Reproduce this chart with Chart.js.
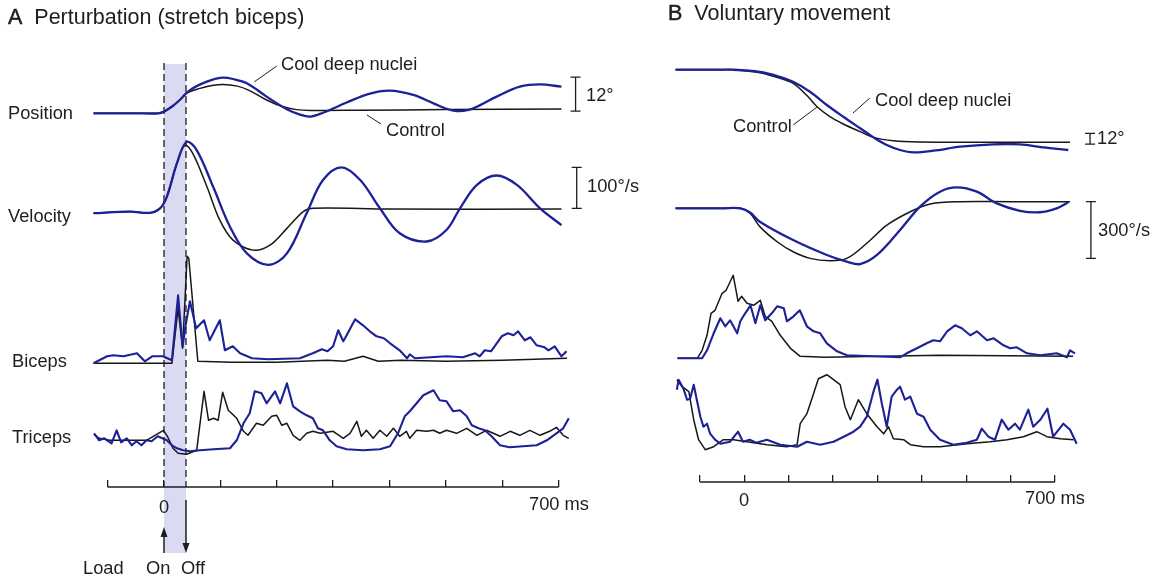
<!DOCTYPE html>
<html>
<head>
<meta charset="utf-8">
<script src="https://cdn.jsdelivr.net/npm/chart.js@4.4.1/dist/chart.umd.min.js"></script>
<style>
  html, body { margin: 0; padding: 0; background: #fff; }
  #fig { position: relative; width: 1161px; height: 577px; overflow: hidden;
         font-family: "Liberation Sans", Arial, sans-serif; color: #1e1e1e; }
  #fig canvas { position: absolute; top: 0; }
  .t { position: absolute; white-space: nowrap; line-height: 1; font-size: 18.3px; transform: translateY(-50%); }
  .c { transform: translate(-50%, -50%); }
  .ttl { font-size: 21.5px; }
  .ttl b { font-weight: normal; -webkit-text-stroke: 0.5px #1e1e1e; }
</style>
</head>
<body>
<div id="fig">
  <canvas id="chartA" width="620" height="577" style="left:0"></canvas>
  <canvas id="chartB" width="521" height="577" style="left:640px"></canvas>

  <div class="t ttl" style="left:8px;top:18px"><b>A</b>&nbsp; Perturbation (stretch biceps)</div>
  <div class="t" style="left:281px;top:64px">Cool deep nuclei</div>
  <div class="t" style="left:386px;top:130px">Control</div>
  <div class="t" style="left:586px;top:95px">12°</div>
  <div class="t" style="left:587px;top:186px">100°/s</div>
  <div class="t" style="left:8px;top:113px">Position</div>
  <div class="t" style="left:8px;top:216px">Velocity</div>
  <div class="t" style="left:12px;top:361px">Biceps</div>
  <div class="t" style="left:12px;top:437px">Triceps</div>
  <div class="t c" style="left:164px;top:507px">0</div>
  <div class="t c" style="left:559px;top:504px">700 ms</div>
  <div class="t" style="left:83px;top:568px">Load</div>
  <div class="t" style="left:146px;top:568px">On</div>
  <div class="t" style="left:181px;top:568px">Off</div>

  <div class="t ttl" style="left:668px;top:14px"><b>B</b>&nbsp; Voluntary movement</div>
  <div class="t" style="left:875px;top:100px">Cool deep nuclei</div>
  <div class="t" style="left:733px;top:126px">Control</div>
  <div class="t" style="left:1097px;top:138px">12°</div>
  <div class="t" style="left:1098px;top:230px">300°/s</div>
  <div class="t c" style="left:744px;top:500px">0</div>
  <div class="t c" style="left:1055px;top:498px">700 ms</div>
</div>

<script>
// ---------- data: [time (ms), value] ----------
// A: perturbation (stretch biceps). position in deg, velocity in deg/s, EMG in arbitrary units
const timeTicks = [-100, 0, 100, 200, 300, 400, 500, 600, 700];
const loadOnOff = [0, 39];

const posA_control = [[-125,0],[-40,0],[-10,0],[0,0.6],[15,2.5],[28,4.7],[40,7.1],[64,8.8],[85,9.8],[105,10.2],[130,9.6],[150,8.2],[182,4.7],[210,2.4],[235,1.3],[260,1.0],[350,1.1],[500,1.3],[705,1.5]];
const posA_cool = [[-125,0],[-40,0],[-10,0],[0,0.6],[15,2.5],[28,4.7],[46,8.2],[76,11.2],[103,12.6],[125,12.0],[147,10.6],[182,5.9],[218,1.4],[240,-0.4],[259,-1.2],[282,0.2],[324,3.8],[362,6.8],[400,8.0],[442,6.5],[478,3.5],[501,1.6],[519,0.8],[540,1.2],[560,2.8],[590,5.9],[631,9.4],[667,10.2],[705,9.4]];

const velA_control = [[-125,-12],[-60,-8],[-25,-11],[-7,0],[5,28],[23,110],[37,154],[51,134],[76,53],[99,-29],[122,-77],[158,-102],[188,-90],[218,-49],[247,-8],[264,0],[400,-2],[705,-2]];
const velA_cool = [[-125,-12],[-60,-8],[-25,-11],[-7,0],[5,28],[23,110],[40,162],[58,142],[87,53],[117,-45],[147,-110],[185,-138],[218,-110],[253,-12],[282,69],[315,100],[348,69],[383,0],[418,-61],[466,-81],[501,-53],[525,0],[555,57],[590,80],[626,57],[667,0],[705,-41]];

const bicA_control = [[-125,0],[14,0],[25,55],[33,15],[41,107],[44,105],[60,2],[120,1],[200,1],[290,3],[320,2],[353,7],[380,2],[420,3],[500,2],[600,3],[715,5]];
const bicA_cool = [[-125,0],[-101,7],[-90,8],[-72,7],[-48,10],[-34,2],[-21,7],[-2,7],[14,3],[25,68],[33,17],[38,37],[46,62],[57,35],[71,43],[81,23],[99,43],[108,13],[122,17],[135,10],[156,5],[185,4],[241,5],[264,10],[280,14],[290,12],[300,17],[309,33],[318,22],[324,28],[339,44],[353,38],[365,32],[377,27],[390,25],[401,20],[418,13],[431,5],[436,9],[445,5],[501,7],[530,6],[552,10],[560,7],[569,13],[580,12],[599,27],[610,30],[620,28],[628,32],[640,23],[650,26],[661,18],[675,16],[682,13],[693,17],[705,7],[714,12]];

const triA_control = [[-124,19],[-115,15],[-96,13],[-72,13],[-31,13],[-1,23],[6,17],[16,5],[25,0],[40,-1],[58,3],[71,62],[79,33],[88,35],[96,33],[104,61],[114,43],[129,35],[141,22],[149,18],[164,30],[176,28],[191,37],[200,38],[209,28],[218,30],[229,18],[241,13],[253,20],[264,22],[277,20],[300,22],[318,15],[330,20],[342,32],[350,17],[359,23],[371,15],[383,23],[395,17],[407,25],[418,17],[430,22],[436,15],[448,23],[466,22],[478,23],[489,20],[501,23],[519,20],[537,25],[555,18],[572,23],[596,17],[614,22],[631,18],[649,23],[667,18],[684,22],[696,26],[708,18],[718,15]];
const triA_cool = [[-124,20],[-115,13],[-106,15],[-93,10],[-84,23],[-76,11],[-66,15],[-57,8],[-49,12],[-40,8],[-31,13],[-22,12],[-11,17],[5,13],[14,8],[23,5],[34,3],[46,2],[64,3],[88,4],[117,5],[129,13],[141,30],[152,40],[161,62],[173,60],[182,50],[197,62],[206,50],[218,70],[229,47],[241,42],[253,38],[264,35],[273,25],[282,23],[294,13],[306,7],[324,4],[353,3],[383,4],[401,7],[415,20],[427,37],[436,42],[448,50],[460,58],[478,63],[489,53],[501,52],[513,42],[525,43],[537,37],[546,28],[558,25],[569,23],[581,17],[596,8],[613,6],[637,7],[661,8],[679,13],[696,20],[708,25],[718,35]];

// B: voluntary movement
const posB_control = [[-155,82],[-60,82],[-25,82],[35,78.7],[73,73.5],[110,66.7],[140,53.6],[164,40.4],[193,29.2],[223,21],[261,12.4],[291,6],[336,2.2],[396,0.8],[500,0.5],[734,0.5]];
const posB_cool = [[-155,82],[-60,82],[-25,82],[35,79.5],[73,75],[110,68.5],[148,57.3],[186,42.4],[223,29.2],[261,16.2],[291,6],[321,-2.6],[351,-8.2],[381,-10.8],[426,-9],[487,-4.5],[561,-1.8],[621,-1.8],[673,-5.2],[730,-8.2]];

const velB_control = [[-155,0],[-50,0],[-9,0],[13,-26],[35,-97],[74,-177],[110,-230],[148,-265],[193,-277],[231,-265],[276,-185],[322,-88],[374,-18],[419,23],[487,35],[600,35],[734,35]];
const velB_cool = [[-155,0],[-50,0],[-9,0],[13,-22],[35,-71],[110,-168],[186,-247],[231,-282],[261,-295],[299,-247],[351,-115],[396,9],[441,88],[479,111],[524,88],[569,26],[621,-13],[666,-21],[704,0],[730,32]];

const bicB_control = [[-151,0],[-106,0],[-95,8],[-84,23],[-75,45],[-66,48],[-50,65],[-41,68],[-25,83],[-14,57],[-6,62],[6,55],[21,53],[36,58],[47,42],[62,37],[81,23],[104,10],[126,2],[180,1],[441,3],[741,2]];
const bicB_cool = [[-150,0],[-95,0],[-84,8],[-69,25],[-54,40],[-43,32],[-32,38],[-16,25],[-9,37],[2,45],[14,53],[25,35],[36,53],[47,38],[62,45],[74,52],[89,50],[96,37],[111,42],[125,48],[141,32],[156,27],[171,25],[186,15],[209,7],[231,3],[291,2],[351,1],[366,5],[389,10],[411,15],[426,18],[441,17],[457,27],[475,33],[490,30],[509,23],[524,27],[547,18],[562,20],[584,13],[599,10],[614,11],[637,5],[667,3],[704,5],[727,1],[734,8],[745,5]];

const triB_control = [[-152,67],[-140,60],[-125,55],[-114,27],[-103,7],[-88,-3],[-69,0],[-47,7],[-24,7],[6,5],[51,2],[96,0],[119,2],[126,23],[141,33],[156,53],[167,68],[186,72],[201,67],[216,62],[227,40],[239,27],[257,47],[276,33],[299,20],[314,13],[325,20],[336,8],[359,7],[374,2],[404,0],[441,0],[502,3],[554,5],[592,7],[629,10],[659,15],[682,10],[712,8],[742,7]];
const triB_cool = [[-152,57],[-148,67],[-137,58],[-129,47],[-122,48],[-114,62],[-107,47],[-99,30],[-92,20],[-84,23],[-77,13],[-66,7],[-54,3],[-32,5],[-14,15],[-3,5],[12,7],[27,4],[51,7],[81,2],[119,0],[141,5],[171,2],[201,5],[224,10],[246,15],[261,20],[276,30],[291,55],[300,67],[310,43],[321,20],[332,50],[344,57],[351,60],[362,47],[374,50],[389,33],[404,30],[419,17],[441,7],[471,2],[501,4],[524,7],[535,18],[550,10],[565,7],[580,27],[595,17],[610,23],[621,17],[640,37],[651,20],[667,27],[683,38],[696,10],[719,23],[734,17],[749,3]];

// ---------- styling / layout ----------
const COOL = '#1d2196';
const CTRL = '#171717';
const INK = '#1e1e1e';
const SHADE = 'rgba(205,205,238,0.75)';

function pts(a) { return a.map(p => ({ x: p[0], y: p[1] })); }

// a hidden y scale whose zero sits at zeroPx with pxPerUnit pixels per unit
function rowScale(zeroPx, pxPerUnit, top, bottom) {
  return { type: 'linear', display: false, bounds: 'data',
           min: (zeroPx - bottom) / pxPerUnit, max: (zeroPx - top) / pxPerUnit };
}

function trace(data, axis, color, width, smooth) {
  return { data: pts(data), yAxisID: axis, borderColor: color, borderWidth: width,
           pointRadius: 0, fill: false, clip: false, borderJoinStyle: 'round',
           tension: smooth ? 0.35 : 0 };
}

function marks(cfg) {
  return {
    id: 'marks',
    beforeDatasetsDraw(chart) {
      if (!cfg.load) return;
      const { ctx, scales: { x } } = chart;
      const a = x.getPixelForValue(cfg.load[0]), b = x.getPixelForValue(cfg.load[1]);
      ctx.save();
      ctx.fillStyle = SHADE;
      ctx.fillRect(a, cfg.shade[0], b - a, cfg.shade[1] - cfg.shade[0]);
      ctx.strokeStyle = INK; ctx.lineWidth = 1.3; ctx.setLineDash([7, 4]);
      [a, b].forEach(px => { ctx.beginPath(); ctx.moveTo(px, cfg.dash[0]); ctx.lineTo(px, cfg.dash[1]); ctx.stroke(); });
      ctx.restore();
    },
    afterDraw(chart) {
      const { ctx, scales, chartArea } = chart;
      const x = scales.x;
      ctx.save();
      ctx.strokeStyle = INK; ctx.fillStyle = INK; ctx.lineWidth = 1.3;
      // time axis line
      ctx.beginPath();
      ctx.moveTo(x.getPixelForValue(timeTicks[0]), chartArea.bottom);
      ctx.lineTo(x.getPixelForValue(timeTicks[timeTicks.length - 1]), chartArea.bottom);
      ctx.stroke();
      // calibration bars
      cfg.bars.forEach(br => {
        const px = x.getPixelForValue(br.t), y = scales[br.axis];
        const y0 = y.getPixelForValue(br.from), y1 = y.getPixelForValue(br.to);
        ctx.beginPath();
        ctx.moveTo(px, y0); ctx.lineTo(px, y1);
        ctx.moveTo(px - 5, y0); ctx.lineTo(px + 5, y0);
        ctx.moveTo(px - 5, y1); ctx.lineTo(px + 5, y1);
        ctx.stroke();
      });
      // leader lines
      ctx.lineWidth = 1;
      cfg.leaders.forEach(l => {
        const y = scales[l.axis];
        ctx.beginPath();
        ctx.moveTo(x.getPixelForValue(l.from[0]), y.getPixelForValue(l.from[1]));
        ctx.lineTo(x.getPixelForValue(l.to[0]), y.getPixelForValue(l.to[1]));
        ctx.stroke();
      });
      // load on / off arrows
      if (cfg.load) {
        ctx.lineWidth = 1.5;
        const arrow = (px, yTail, yHead) => {
          const d = yHead < yTail ? 1 : -1;
          ctx.beginPath(); ctx.moveTo(px, yTail); ctx.lineTo(px, yHead + d * 7); ctx.stroke();
          ctx.beginPath(); ctx.moveTo(px, yHead); ctx.lineTo(px - 3.5, yHead + d * 10); ctx.lineTo(px + 3.5, yHead + d * 10); ctx.closePath(); ctx.fill();
        };
        arrow(x.getPixelForValue(cfg.load[0]), cfg.arrowOn[0], cfg.arrowOn[1]);
        arrow(x.getPixelForValue(cfg.load[1]), cfg.arrowOff[0], cfg.arrowOff[1]);
      }
      ctx.restore();
    }
  };
}

function xScale(min, max) {
  return {
    type: 'linear', min: min, max: max, bounds: 'data', offset: false,
    afterBuildTicks: s => { s.ticks = timeTicks.map(v => ({ value: v })); },
    ticks: { display: false, autoSkip: false },
    grid: { drawOnChartArea: false, drawTicks: true, tickLength: -7, color: INK, lineWidth: 1.3 },
    border: { display: false }
  };
}

function makeChart(id, geo, datasets, yScales, cfg) {
  const padL = geo.zeroPx + geo.xMin * geo.pxPerMs;
  const padR = geo.width - (geo.zeroPx + geo.xMax * geo.pxPerMs);
  const scales = Object.assign({ x: xScale(geo.xMin, geo.xMax) }, yScales);
  return new Chart(document.getElementById(id), {
    type: 'line',
    data: { datasets: datasets },
    options: {
      responsive: false, animation: false, events: [],
      layout: { padding: { left: padL, right: padR, top: geo.top, bottom: 577 - geo.bottom } },
      plugins: { legend: { display: false }, tooltip: { enabled: false } },
      scales: scales
    },
    plugins: [marks(cfg)]
  });
}

// ---------- panel A ----------
const geoA = { width: 620, zeroPx: 164, pxPerMs: 0.5638, xMin: -150, xMax: 740, top: 40, bottom: 487 };
makeChart('chartA', geoA, [
  trace(posA_cool, 'yPos', COOL, 2.3, true),
  trace(posA_control, 'yPos', CTRL, 1.5, true),
  trace(velA_cool, 'yVel', COOL, 2.3, true),
  trace(velA_control, 'yVel', CTRL, 1.5, true),
  trace(bicA_cool, 'yBic', COOL, 2.1, false),
  trace(bicA_control, 'yBic', CTRL, 1.5, false),
  trace(triA_cool, 'yTri', COOL, 2.1, false),
  trace(triA_control, 'yTri', CTRL, 1.5, false)
], {
  yPos: rowScale(113.3, 2.83, geoA.top, geoA.bottom),
  yVel: rowScale(208.3, 0.41, geoA.top, geoA.bottom),
  yBic: rowScale(363.3, 1, geoA.top, geoA.bottom),
  yTri: rowScale(453.3, 1, geoA.top, geoA.bottom)
}, {
  load: loadOnOff, shade: [64, 553], dash: [63, 487],
  arrowOn: [553, 527], arrowOff: [500, 553],
  bars: [ { axis: 'yPos', t: 730, from: 0.8, to: 12.8 }, { axis: 'yVel', t: 732, from: 0, to: 100 } ],
  leaders: [ { axis: 'yPos', from: [200, 16.7], to: [160, 11.1] }, { axis: 'yPos', from: [360, -0.6], to: [385, -3.8] } ]
});

// ---------- panel B ----------
const geoB = { width: 521, zeroPx: 104.3, pxPerMs: 0.4438, xMin: -170, xMax: 770, top: 40, bottom: 482 };
makeChart('chartB', geoB, [
  trace(posB_cool, 'yPos', COOL, 2.3, true),
  trace(posB_control, 'yPos', CTRL, 1.5, true),
  trace(velB_cool, 'yVel', COOL, 2.3, true),
  trace(velB_control, 'yVel', CTRL, 1.5, true),
  trace(bicB_cool, 'yBic', COOL, 2.1, false),
  trace(bicB_control, 'yBic', CTRL, 1.5, false),
  trace(triB_cool, 'yTri', COOL, 2.1, false),
  trace(triB_control, 'yTri', CTRL, 1.5, false)
], {
  yPos: rowScale(142.7, 0.89, geoB.top, geoB.bottom),
  yVel: rowScale(208.3, 0.189, geoB.top, geoB.bottom),
  yBic: rowScale(358.3, 1, geoB.top, geoB.bottom),
  yTri: rowScale(446.7, 1, geoB.top, geoB.bottom)
}, {
  bars: [ { axis: 'yPos', t: 779, from: -1.5, to: 10.5 }, { axis: 'yVel', t: 781, from: -265, to: 35 } ],
  leaders: [ { axis: 'yPos', from: [283, 50.2], to: [245, 33.4] }, { axis: 'yPos', from: [110, 19.9], to: [164, 40.1] } ]
});
</script>
</body>
</html>
